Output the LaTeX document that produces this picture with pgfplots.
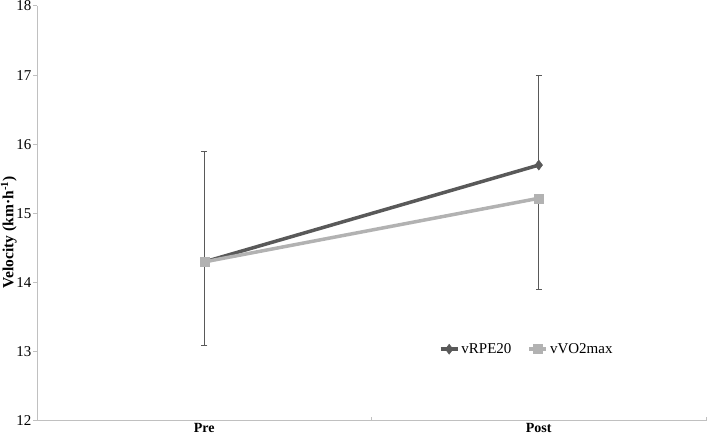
\documentclass[border=0pt]{standalone}
\usepackage{fontspec}
\setmainfont{Liberation Serif}
\usepackage{pgfplots}
\pgfplotsset{compat=1.18}

\definecolor{dk}{RGB}{89,89,89}
\definecolor{lt}{RGB}{178,178,178}
\definecolor{axc}{RGB}{192,192,192}

\begin{document}
\begin{tikzpicture}
\begin{axis}[name=ax,
  scale only axis, width=669pt, height=415pt,
  xmin=-0.5, xmax=1.5, ymin=12, ymax=18,
  ytick={12,13,...,18},
  xtick={0,1}, xticklabels={Pre,Post},
  minor xtick={-0.5,0.5,1.5},
  axis x line=bottom, axis y line=left,
  axis line style={axc, -, line width=1pt},
  major x tick style={draw=none},
  minor x tick style={axc, line width=1pt},
  y tick style={axc, line width=1pt},
  xtick align=inside, ytick align=outside,
  major tick length=4pt, minor tick length=4pt,
  font=\fontsize{15}{18}\selectfont,
  /pgf/number format/assume math mode=true,
  xticklabel style={font=\fontsize{14}{16}\selectfont\bfseries, yshift=1pt},
  yticklabel style={font=\fontsize{15}{18}\selectfont, xshift=2pt},
  ylabel={Velocity (km·h\textsuperscript{-1})},
  ylabel style={at={(axis description cs:-0.042,0.455)}, anchor=center,
    font=\fontsize{15.5}{18}\selectfont\bfseries},
  legend style={draw=none, fill=none, at={(axis description cs:0.732,0.173)},
    anchor=center, legend columns=2, font=\fontsize{15}{18}\selectfont,
    /tikz/every even column/.append style={column sep=14pt}},
  legend cell align=left,
]
\addplot[dk, line width=3.5pt, mark=diamond*, mark size=5pt,
  mark options={solid, line width=0.5pt, fill=dk},
  error bars/.cd, y dir=plus, y explicit,
  error bar style={dk, line width=1pt},
  error mark options={rotate=90, mark size=3pt, dk, line width=0.8pt}]
  coordinates {(0,14.3) +- (0,1.6) (1,15.7) +- (0,1.3)};
\addlegendentry{vRPE20}
\addplot[lt, line width=3.5pt, mark=square*, mark size=4.5pt,
  mark options={solid, line width=0.5pt, fill=lt},
  error bars/.cd, y dir=minus, y explicit,
  error bar style={dk, line width=1pt},
  error mark options={rotate=90, mark size=3pt, dk, line width=0.8pt}]
  coordinates {(0,14.3) +- (0,1.2) (1,15.22) +- (0,1.32)};
\addlegendentry{vVO2max}
\end{axis}
\pgfresetboundingbox
\path[use as bounding box] ([xshift=-37pt,yshift=-17pt]ax.south west) rectangle ([xshift=2pt,yshift=6pt]ax.north east);
\end{tikzpicture}
\end{document}
